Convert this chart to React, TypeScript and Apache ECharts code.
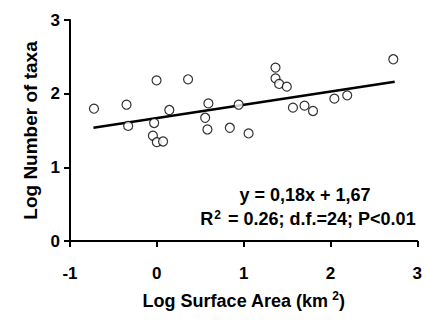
import React, { useEffect, useRef } from "react";
import * as echarts from "echarts";

const xValues = [-0.724, -0.349, -0.003, 0.36, 0.144, 0.594, -0.33, -0.031, 0.557, 0.583, 0.841, -0.045, 0.0, 0.072, 0.943, 1.367, 1.367, 1.409, 1.497, 1.568, 1.701, 1.799, 2.045, 2.193, 2.724, 1.057];
const yValues = [1.796, 1.85, 2.181, 2.195, 1.778, 1.868, 1.562, 1.602, 1.673, 1.514, 1.537, 1.429, 1.343, 1.351, 1.85, 2.354, 2.208, 2.132, 2.095, 1.81, 1.837, 1.765, 1.932, 1.977, 2.467, 1.46];
const slope = 0.18;
const intercept = 1.67;
const lineRange = [-0.73, 2.74];

const FONT = "'Liberation Sans', Arial, sans-serif";

export default function App() {
  const ref = useRef<HTMLDivElement>(null);
  useEffect(() => {
    if (!ref.current) return;
    const chart = echarts.init(ref.current, null, { renderer: "svg" });
    const points = xValues.map((x, i) => [x, yValues[i]]);
    const linePts = lineRange.map((x) => [x, slope * x + intercept]);
    chart.setOption({
      animation: false,
      backgroundColor: "#fff",
      textStyle: { fontFamily: FONT },
      grid: { left: 70, right: 3, top: 20, bottom: 79 },
      xAxis: {
        type: "value",
        min: -1,
        max: 3,
        interval: 1,
        splitLine: { show: false },
        axisLine: { show: true, onZero: false, lineStyle: { color: "#000", width: 2 } },
        axisTick: { show: true, length: 6, lineStyle: { color: "#000", width: 2 } },
        axisLabel: { color: "#000", fontSize: 17, fontWeight: "bold", fontFamily: FONT, margin: 24, showMaxLabel: true, showMinLabel: true, hideOverlap: false },
        name: "Log Surface Area (km{sup|2})",
        nameLocation: "middle",
        nameGap: 49,
        nameTextStyle: {
          color: "#000",
          fontSize: 18,
          fontWeight: "bold",
          fontFamily: FONT,
          rich: {
            sup: { fontSize: 12, fontWeight: "bold", verticalAlign: "top", padding: [0, 0, 9, 4], color: "#000", fontFamily: FONT },
          },
        },
      },
      yAxis: {
        type: "value",
        min: 0,
        max: 3,
        interval: 1,
        splitLine: { show: false },
        axisLine: { show: true, onZero: false, lineStyle: { color: "#000", width: 2 } },
        axisTick: { show: true, length: 6, lineStyle: { color: "#000", width: 2 } },
        axisLabel: { color: "#000", fontSize: 17, fontWeight: "bold", fontFamily: FONT, margin: 10 },
        name: "Log Number of taxa",
        nameLocation: "middle",
        nameGap: 30,
        nameTextStyle: { color: "#000", fontSize: 19, fontWeight: "bold", fontFamily: FONT },
      },
      series: [
        {
          type: "line",
          data: linePts,
          symbol: "none",
          lineStyle: { color: "#000", width: 2.5 },
          z: 1,
        },
        {
          type: "scatter",
          data: points,
          symbol: "circle",
          symbolSize: 9,
          itemStyle: { color: "#fff", borderColor: "#000", borderWidth: 1.2 },
          z: 2,
        },
      ],
      graphic: [
        {
          type: "text",
          x: 305,
          y: 195,
          style: {
            text: "y = 0,18x + 1,67",
            font: `bold 18px ${FONT}`,
            fill: "#000",
            align: "center",
            verticalAlign: "middle",
          },
        },
        {
          type: "text",
          x: 308,
          y: 219,
          style: {
            text: "R{sup|2} = 0.26; d.f.=24; P<0.01",
            font: `bold 18px ${FONT}`,
            fill: "#000",
            align: "center",
            verticalAlign: "middle",
            rich: {
              sup: { font: `bold 12px ${FONT}`, fill: "#000", verticalAlign: "top", padding: [0, 2, 9, 1] },
            },
          },
        },
      ],
    });
    return () => chart.dispose();
  }, []);
  return <div ref={ref} style={{ width: 425, height: 320, position: "absolute", left: 0, top: 0 }} />;
}
